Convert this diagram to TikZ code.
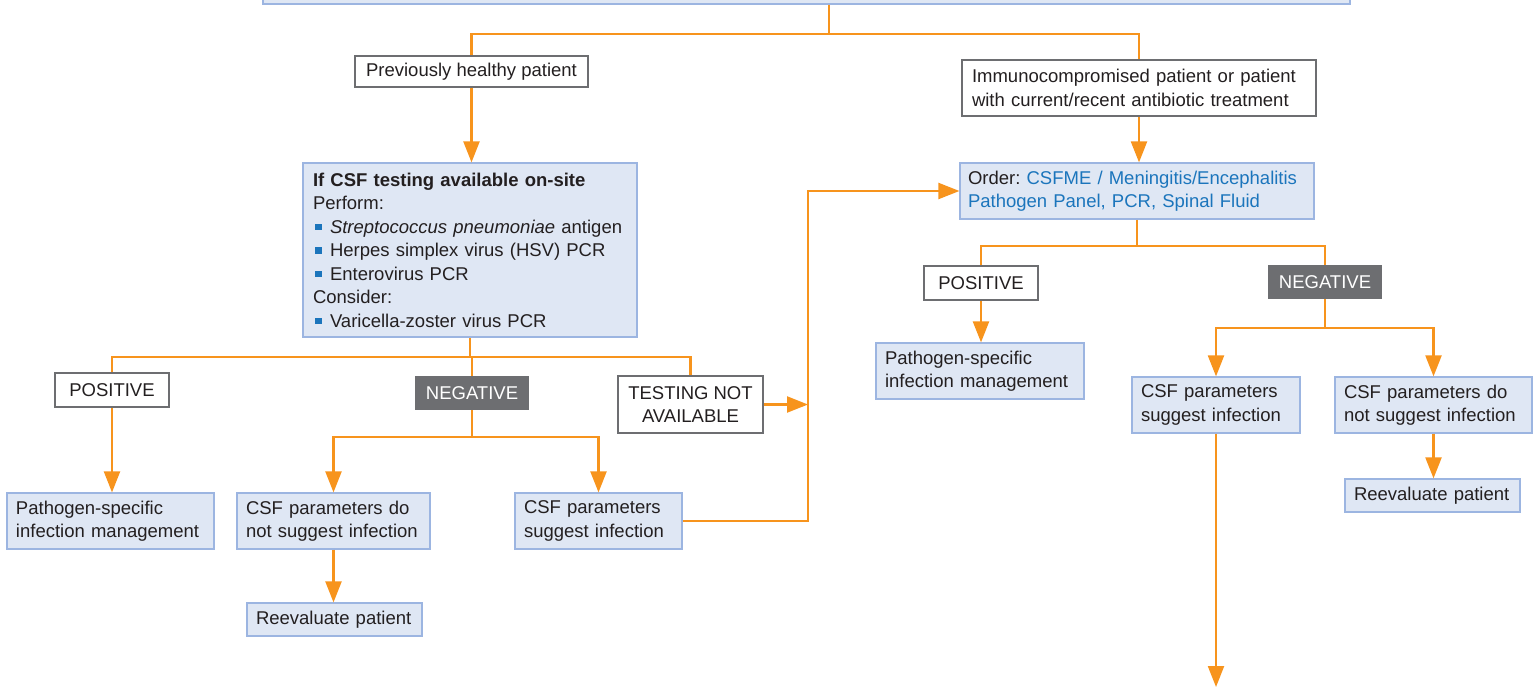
\documentclass[tikz,border=0pt]{standalone}
\usepackage{fontspec}
\setmainfont{Liberation Sans}
\usetikzlibrary{arrows.meta,calc}
\definecolor{orng}{HTML}{F7941D}
\definecolor{fillblue}{HTML}{DFE7F4}
\definecolor{bordblue}{HTML}{9CB5E1}
\definecolor{graybord}{HTML}{6D6E71}
\definecolor{darkbox}{HTML}{6D6E71}
\definecolor{txt}{HTML}{231F20}
\definecolor{bluetxt}{HTML}{1B75BC}
\newcommand\fsz{\frenchspacing\fontsize{18.5}{23.5}\selectfont}
\newcommand\bul{\hspace*{2pt}\textcolor{bluetxt}{\rule[3pt]{6.5pt}{6.5pt}}\hspace{8.5pt}}
\begin{document}
\begin{tikzpicture}[x=1pt,y=-1pt,
  bbox/.style={draw=bordblue, fill=fillblue, line width=1.2pt, inner xsep=9pt, inner ysep=0pt, align=left, text=txt, font=\fsz},
  wbox/.style={draw=graybord, fill=white, line width=1.5pt, inner xsep=4pt, inner ysep=0pt, align=center, text=txt, font=\fsz},
  dbox/.style={fill=darkbox, draw=none, inner xsep=4pt, inner ysep=0pt, align=center, text=white, font=\fsz},
  ln/.style={draw=orng, line width=2.2pt},
  arr/.style={ln, -{Triangle[length=21pt,width=16pt]}}]
\useasboundingbox (0,0) rectangle (1538,687);
% nodes
\node[bbox, minimum width=1087pt, minimum height=40pt] (top) at (806.5,-16) {};
\node[wbox, minimum width=233pt, minimum height=31pt] (prev) at (471.5,71.5) {Previously healthy patient};
\node[wbox, minimum width=354pt, minimum height=56pt, align=left, text width=334pt, inner xsep=10pt] (immuno) at (1139,88) {Immunocompromised patient or patient\\with current/recent antibiotic treatment};
\node[bbox, text width=314pt, inner xsep=10pt, minimum height=174pt] (csf) at (470,250) {\textbf{If CSF testing available on-site}\\Perform:\\\bul\textit{Streptococcus pneumoniae} antigen\\\bul Herpes simplex virus (HSV) PCR\\\bul Enterovirus PCR\\Consider:\\\bul Varicella-zoster virus PCR};
\node[bbox, text width=338pt, inner xsep=8pt, minimum height=56pt] (order) at (1137,191) {Order: \textcolor{bluetxt}{CSFME / Meningitis/Encephalitis}\\\textcolor{bluetxt}{Pathogen Panel, PCR, Spinal Fluid}};
\node[wbox, minimum width=114pt, minimum height=34pt] (posL) at (112,390) {POSITIVE};
\node[dbox, minimum width=114pt, minimum height=34pt] (negL) at (472,393) {NEGATIVE};
\node[wbox, minimum width=145pt, minimum height=57pt] (tna) at (690.5,404.5) {TESTING NOT\\AVAILABLE};
\node[bbox, text width=189pt, minimum height=56pt] (pathL) at (110.5,521) {Pathogen-specific\\infection management};
\node[bbox, text width=175pt, minimum height=56pt] (notL) at (333.5,521) {CSF parameters do\\not suggest infection};
\node[bbox, text width=149pt, minimum height=56pt] (sugL) at (598.5,521) {CSF parameters\\suggest infection};
\node[bbox, text width=157pt, minimum height=33pt] (reevL) at (334.5,619.5) {Reevaluate patient};
\node[wbox, minimum width=114pt, minimum height=34pt] (posR) at (981,283) {POSITIVE};
\node[dbox, minimum width=114pt, minimum height=34pt] (negR) at (1325,282) {NEGATIVE};
\node[bbox, text width=190pt, minimum height=56pt] (pathR) at (980,371) {Pathogen-specific\\infection management};
\node[bbox, text width=150pt, minimum height=56pt] (sugR) at (1216,405) {CSF parameters\\suggest infection};
\node[bbox, text width=179pt, minimum height=56pt] (notR) at (1433.5,405) {CSF parameters do\\not suggest infection};
\node[bbox, text width=157pt, minimum height=33pt] (reevR) at (1432.5,495.5) {Reevaluate patient};
% junction coordinates
\coordinate (j1) at (829,34);
\coordinate (j2) at (471,357);
\coordinate (j3) at (471,437);
\coordinate (busx) at (808,0);
\coordinate (j4) at (1141,246);
\coordinate (j5) at (1325,328);
\coordinate (endR) at (1217,687);
% connectors
\draw[ln] (top.south -| j1) -- (j1);
\draw[ln] (prev.north) |- (j1) -| (immuno.north);
\draw[arr] (prev.south) -- (prev.south |- csf.north);
\draw[arr] (immuno.south) -- (immuno.south |- order.north);
\draw[ln] (csf.south) -- (csf.south |- j2);
\draw[ln] (posL.north) |- (j2) -| (tna.north);
\draw[ln] (negL.north) -- (negL.north |- j2);
\draw[arr] (posL.south) -- (posL.south |- pathL.north);
\draw[arr] (negL.south) -- (negL.south |- j3) -| (notL.north);
\draw[arr] (negL.south |- j3) -| (sugL.north);
\draw[arr] (notL.south) -- (notL.south |- reevL.north);
\draw[arr] (tna.east) -- (tna.east -| busx);
\draw[arr] (sugL.east) -| (busx |- order.west) -- (order.west);
\draw[ln] (order.south) -- (order.south |- j4);
\draw[ln] (posR.north) |- (j4) -| (negR.north);
\draw[arr] (posR.south) -- (posR.south |- pathR.north);
\draw[arr] (negR.south) -- (negR.south |- j5) -| (sugR.north);
\draw[arr] (negR.south |- j5) -| (notR.north);
\draw[arr] (sugR.south) -- (sugR.south |- endR);
\draw[arr] (notR.south) -- (notR.south |- reevR.north);
\end{tikzpicture}
\end{document}
